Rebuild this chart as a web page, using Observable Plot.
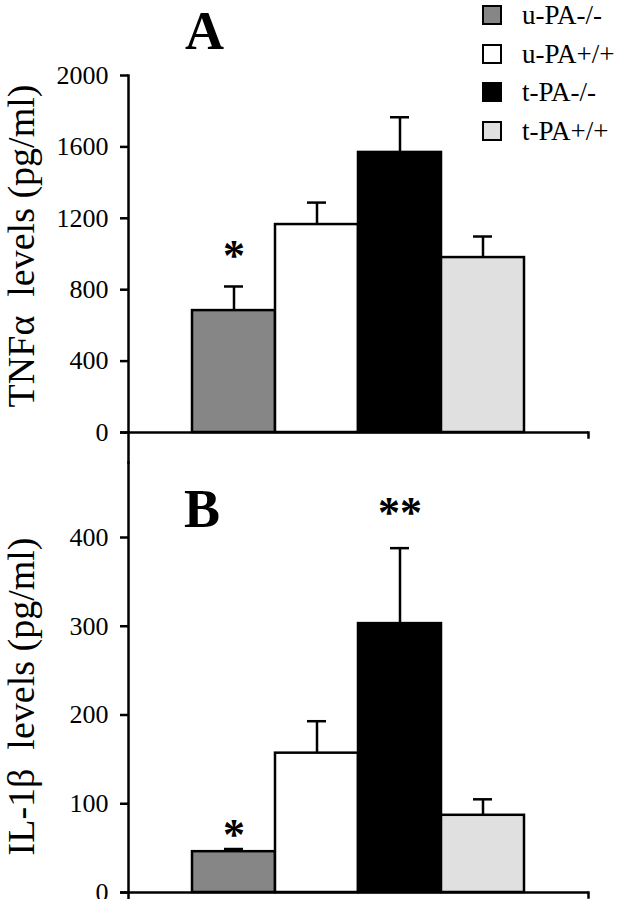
<!DOCTYPE html>
<html><head><meta charset="utf-8">
<script src="https://cdn.jsdelivr.net/npm/d3@7"></script>
<script src="https://cdn.jsdelivr.net/npm/@observablehq/plot@0.6"></script>
<style>
body{margin:0;background:#fff;}
#chart{position:relative;width:623px;height:899px;font-family:"Liberation Serif","Times New Roman",serif;overflow:hidden;}
#chart svg text{font-family:"Liberation Serif","Times New Roman",serif !important;}
.pan{position:absolute;left:0;}
.legend{position:absolute;left:482px;top:0;}
.row{position:absolute;left:0;display:flex;align-items:center;white-space:nowrap;font-size:27px;line-height:20px;color:#000;}
.sw{width:16px;height:16px;border:2px solid #000;margin-right:20px;}
</style></head><body><div id="chart"></div>
<script>
const groups = ["u-PA-/-", "u-PA+/+", "t-PA-/-", "t-PA+/+"];
const colors = ["#868686", "#ffffff", "#000000", "#e0e0e0"];
const tnfMean = [683, 1165, 1569, 980];
const tnfUpper = [818, 1288, 1766, 1098];
const il1Mean = [46, 157, 303, 87];
const il1Upper = [49, 193, 388, 105];
const tnfTicks = [0, 400, 800, 1200, 1600, 2000];
const il1Ticks = [0, 100, 200, 300, 400];
const panelLabels = ["A", "B"];
const yTitles = ["TNFα  levels (pg/ml)", "IL-1β  levels (pg/ml)"];
const tnfStars = [{group: "u-PA-/-", label: "*", y: 1087}];
const il1Stars = [{group: "u-PA-/-", label: "*", y: 84}, {group: "t-PA-/-", label: "**", y: 447}];

const FONT = "Liberation Serif, Times New Roman, serif";

function panel(o) {
  const data = groups.map((g, i) => ({group: g, value: o.mean[i], upper: o.upper[i]}));
  const frameH = o.height - 75 - o.marginBottom;
  return Plot.plot({
    width: 623, height: o.height,
    marginTop: 75, marginLeft: 128, marginRight: 35, marginBottom: o.marginBottom,
    style: {fontFamily: FONT, fontSize: "26px", background: "transparent", overflow: "visible", color: "#000"},
    x: {type: "band", domain: groups, paddingInner: 0, paddingOuter: 0.76, axis: null},
    y: {domain: [0, o.ticks[o.ticks.length - 1]], axis: null},
    color: {domain: groups, range: colors},
    marks: [
      Plot.axisY({ticks: o.ticks, tickSize: 8, tickPadding: 12, strokeWidth: 2.5, fontSize: 26, fontFamily: FONT, label: null, tickFormat: d => String(d)}),
      Plot.frame({anchor: "left", strokeWidth: 2.5, insetTop: o.axisTop, insetBottom: o.axisBottom}),
      Plot.barY(data, {x: "group", y: "value", fill: "group", stroke: "black", strokeWidth: 2.5}),
      Plot.ruleX(data, {x: "group", y1: "value", y2: "upper", strokeWidth: 2.5}),
      Plot.tickY(data, {x: "group", y: "upper", strokeWidth: 2.5, inset: 32}),
      Plot.ruleY([0], {strokeWidth: 2.5, insetLeft: -8}),
      Plot.frame({anchor: "right", strokeWidth: 2.5, insetTop: frameH, insetBottom: -5}),
      Plot.text(o.stars, {x: "group", y: "y", text: "label", lineAnchor: "top", fontSize: 44, fontWeight: "bold", fontFamily: FONT}),
      Plot.text([o.label], {frameAnchor: "top-left", text: d => d, dx: o.labelDx, dy: o.labelDy, lineAnchor: "top", textAnchor: "middle", fontSize: o.labelSize, fontWeight: "bold", fontFamily: FONT}),
      Plot.text([o.title], {frameAnchor: "left", text: d => d, rotate: -90, dx: -107, dy: o.titleDy, textAnchor: "middle", lineAnchor: "middle", fontSize: 38, fontFamily: FONT})
    ]
  });
}

const chart = document.getElementById("chart");
const a = panel({mean: tnfMean, upper: tnfUpper, ticks: tnfTicks, height: 462, marginBottom: 30,
  axisTop: 0, axisBottom: -30, stars: tnfStars, label: panelLabels[0], labelDx: 76, labelDy: -65.3, labelSize: 54,
  title: yTitles[0], titleDy: -8});
const b = panel({mean: il1Mean, upper: il1Upper, ticks: il1Ticks, height: 437, marginBottom: 7,
  axisTop: -75, axisBottom: -7, stars: il1Stars, label: panelLabels[1], labelDx: 73.5, labelDy: -48.4, labelSize: 54,
  title: yTitles[1], titleDy: -18.5});
const da = document.createElement("div"); da.className = "pan"; da.style.top = "0px"; da.appendChild(a);
const db = document.createElement("div"); db.className = "pan"; db.style.top = "462px"; db.appendChild(b);
chart.appendChild(da); chart.appendChild(db);

const legend = document.createElement("div"); legend.className = "legend";
groups.forEach((g, i) => {
  const row = document.createElement("div"); row.className = "row";
  row.style.top = (5 + i * 38.5) + "px";
  const sw = document.createElement("span"); sw.className = "sw"; sw.style.background = colors[i];
  const t = document.createElement("span"); t.textContent = g;
  row.appendChild(sw); row.appendChild(t); legend.appendChild(row);
});
chart.appendChild(legend);
</script></body></html>
